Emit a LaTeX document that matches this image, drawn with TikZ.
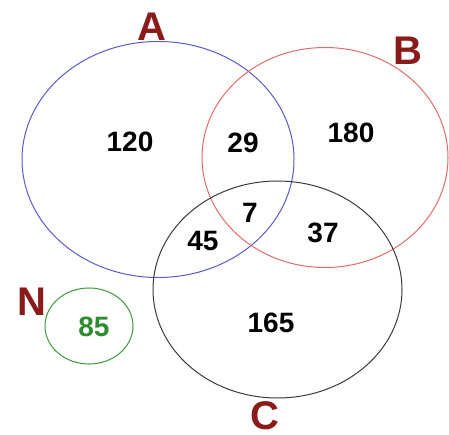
\documentclass[tikz,border=0pt]{standalone}
\usepackage{fontspec}
\setmainfont{Liberation Sans}
\definecolor{lblred}{HTML}{8B1A1A}
\definecolor{cA}{HTML}{5A5AC8}
\definecolor{cB}{HTML}{E06A6A}
\definecolor{cC}{HTML}{3A3A3A}
\definecolor{cN}{HTML}{3C9A3C}
\definecolor{numgreen}{HTML}{2E8B2E}
\begin{document}
\begin{tikzpicture}[x=1pt,y=-1pt,
  setlbl/.style={font=\fontsize{40}{40}\selectfont\bfseries, text=lblred, inner sep=0pt},
  num/.style={font=\fontsize{28}{28}\selectfont\bfseries, text=black, inner sep=0pt},
  ring/.style={line width=1pt}]
\useasboundingbox (0,0) rectangle (449,435);
\draw[ring, cA] (158,159.5) ellipse [x radius=136, y radius=118];
\draw[ring, cB] (325,157.5) ellipse [x radius=123, y radius=110];
\draw[ring, cC] (277.5,289.5) ellipse [x radius=124.5, y radius=108.5];
\draw[ring, cN] (89,326) ellipse [x radius=44, y radius=38];
\node[setlbl] (A) at (152,27) {A};
\node[setlbl] (B) at (408,51) {B};
\node[setlbl] (N) at (32,302) {N};
\node[setlbl] (C) at (265,416) {C};
\node[num] (n120) at (130,142) {120};
\node[num] (n29) at (243,143) {29};
\node[num] (n180) at (351,133) {180};
\node[num] (n7) at (250,213) {7};
\node[num] (n45) at (203,241) {45};
\node[num] (n37) at (323,233) {37};
\node[num] (n165) at (271,323) {165};
\node[num, text=numgreen] (n85) at (94,327) {85};
\end{tikzpicture}
\end{document}
